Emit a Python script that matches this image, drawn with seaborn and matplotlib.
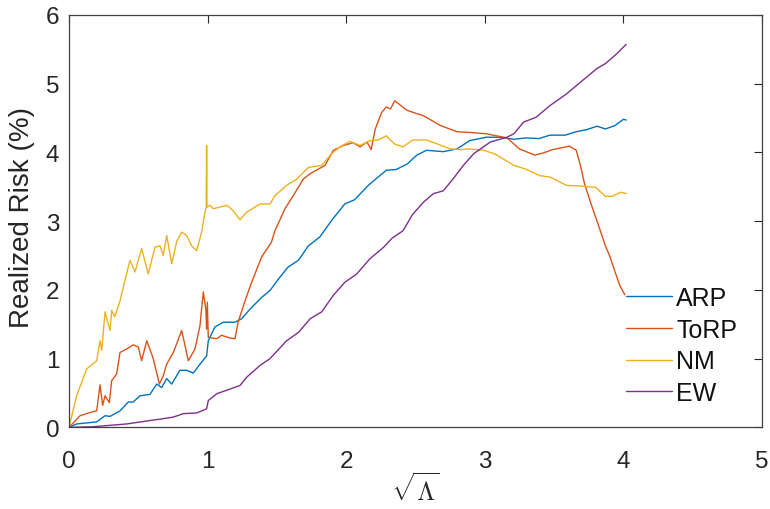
import matplotlib
matplotlib.use("Agg")
import matplotlib.pyplot as plt
import seaborn as sns
import pandas as pd

# ---------------- data ----------------
arp_x = [0, 0.055, 0.2, 0.26, 0.296, 0.368, 0.428, 0.464, 0.512, 0.584, 0.633, 0.669, 0.705, 0.741, 0.80,
         0.849, 0.897, 0.945, 0.993, 1.005, 1.053, 1.113, 1.198, 1.246, 1.306, 1.39, 1.45, 1.52, 1.58, 1.655,
         1.727, 1.81, 1.895, 1.99, 2.06, 2.16, 2.23, 2.29, 2.36, 2.44, 2.51, 2.58, 2.70, 2.80, 2.89, 3.01,
         3.11, 3.21, 3.30, 3.39, 3.47, 3.58, 3.66, 3.735, 3.81, 3.87, 3.94, 4.0, 4.02]
arp_y = [0, 0.05, 0.08, 0.17, 0.16, 0.24, 0.37, 0.37, 0.46, 0.48, 0.63, 0.58, 0.71, 0.63, 0.83,
         0.83, 0.79, 0.92, 1.04, 1.26, 1.46, 1.53, 1.53, 1.58, 1.72, 1.89, 1.99, 2.18, 2.33, 2.43,
         2.64, 2.77, 3.01, 3.25, 3.31, 3.52, 3.64, 3.74, 3.75, 3.83, 3.96, 4.03, 4.01, 4.05, 4.17, 4.22,
         4.22, 4.19, 4.21, 4.20, 4.25, 4.25, 4.30, 4.33, 4.38, 4.34, 4.39, 4.48, 4.47]

torp_x = [0, 0.08, 0.175, 0.2, 0.224, 0.243, 0.26, 0.291, 0.308, 0.344, 0.368, 0.416, 0.464, 0.5, 0.524,
          0.561, 0.608, 0.652, 0.68, 0.705, 0.753, 0.813, 0.861, 0.909, 0.945, 0.969, 0.988, 0.993, 0.998,
          1.005, 1.066, 1.10, 1.16, 1.198, 1.22, 1.27, 1.318, 1.39, 1.46, 1.486, 1.558, 1.618, 1.69, 1.74,
          1.847, 1.907, 1.98, 2.05, 2.10, 2.15, 2.18, 2.21, 2.256, 2.29, 2.32, 2.35, 2.44, 2.56, 2.68,
          2.80, 2.89, 3.01, 3.085, 3.16, 3.25, 3.36, 3.42, 3.49, 3.61, 3.66, 3.69, 3.72, 3.77, 3.82, 3.87,
          3.90, 3.94, 3.975, 4.01]
torp_y = [0, 0.17, 0.23, 0.24, 0.62, 0.32, 0.46, 0.36, 0.68, 0.78, 1.09, 1.14, 1.20, 1.17, 0.97,
          1.26, 1.0, 0.63, 0.75, 0.92, 1.09, 1.41, 0.97, 1.14, 1.48, 1.97, 1.70, 1.43, 1.82,
          1.31, 1.29, 1.34, 1.30, 1.29, 1.53, 1.84, 2.11, 2.48, 2.69, 2.86, 3.18, 3.37, 3.61, 3.69,
          3.81, 4.03, 4.10, 4.14, 4.08, 4.15, 4.04, 4.34, 4.58, 4.66, 4.63, 4.75, 4.61, 4.53, 4.39,
          4.30, 4.29, 4.27, 4.24, 4.21, 4.05, 3.96, 3.99, 4.04, 4.09, 4.03, 3.81, 3.54, 3.23, 2.94, 2.64,
          2.50, 2.26, 2.06, 1.93]

nm_x = [0, 0.055, 0.128, 0.2, 0.224, 0.236, 0.26, 0.296, 0.308, 0.33, 0.368, 0.44, 0.476, 0.524, 0.572,
        0.62, 0.657, 0.68, 0.705, 0.741, 0.777, 0.813, 0.849, 0.885, 0.921, 0.957, 0.981, 0.990, 0.993,
        0.996, 1.017, 1.041, 1.14, 1.185, 1.234, 1.282, 1.378, 1.45, 1.486, 1.57, 1.643, 1.727, 1.823,
        1.895, 1.955, 2.027, 2.1, 2.17, 2.23, 2.29, 2.35, 2.41, 2.48, 2.58, 2.66, 2.75, 2.82, 2.89, 2.99,
        3.07, 3.21, 3.29, 3.40, 3.47, 3.59, 3.69, 3.80, 3.87, 3.92, 3.98, 4.02]
nm_y = [0, 0.46, 0.85, 0.97, 1.26, 1.12, 1.68, 1.41, 1.70, 1.61, 1.84, 2.43, 2.26, 2.6, 2.23,
        2.62, 2.64, 2.5, 2.79, 2.38, 2.7, 2.84, 2.79, 2.64, 2.57, 2.84, 3.13, 3.2, 4.1,
        3.2, 3.23, 3.18, 3.23, 3.15, 3.02, 3.13, 3.25, 3.25, 3.37, 3.52, 3.61, 3.78, 3.81,
        3.98, 4.08, 4.16, 4.10, 4.17, 4.18, 4.24, 4.12, 4.08, 4.18, 4.18, 4.12, 4.05, 4.04, 4.05, 4.03,
        3.98, 3.81, 3.76, 3.66, 3.64, 3.52, 3.51, 3.49, 3.36, 3.36, 3.42, 3.40]

ew_x = [0, 0.175, 0.416, 0.584, 0.657, 0.753, 0.825, 0.921, 0.993, 1.005, 1.066, 1.138, 1.234, 1.282,
        1.378, 1.45, 1.57, 1.655, 1.74, 1.823, 1.907, 1.99, 2.075, 2.17, 2.27, 2.33, 2.41, 2.48, 2.56,
        2.63, 2.70, 2.77, 2.845, 2.92, 2.99, 3.04, 3.16, 3.21, 3.28, 3.37, 3.47, 3.59, 3.69, 3.81, 3.87,
        3.95, 4.02]
ew_y = [0, 0.01, 0.05, 0.10, 0.12, 0.15, 0.20, 0.21, 0.27, 0.39, 0.49, 0.54, 0.61, 0.73,
        0.90, 1.0, 1.26, 1.38, 1.58, 1.68, 1.92, 2.11, 2.23, 2.45, 2.62, 2.75, 2.86, 3.10, 3.28,
        3.40, 3.44, 3.61, 3.81, 3.98, 4.08, 4.15, 4.22, 4.27, 4.44, 4.51, 4.68, 4.85, 5.02, 5.22, 5.29,
        5.43, 5.57]

series_names = ["ARP", "ToRP", "NM", "EW"]
series_colors = ["#0072BD", "#D95319", "#EDB120", "#7E2F8E"]
x_ticks = [0, 1, 2, 3, 4, 5]
y_ticks = [0, 1, 2, 3, 4, 5, 6]

# ---------------- figure ----------------
sns.set_style("white")
plt.rcParams["font.family"] = ["Liberation Sans", "DejaVu Sans"]
plt.rcParams["mathtext.fontset"] = "cm"

fig = plt.figure(figsize=(7.7, 5.1), dpi=100)
ax = fig.add_axes([0.0896, 0.160, 0.900, 0.809])

data = [(arp_x, arp_y), (torp_x, torp_y), (nm_x, nm_y), (ew_x, ew_y)]
for (xs, ys), name, col in zip(data, series_names, series_colors):
    df = pd.DataFrame({"x": xs, "y": ys})
    sns.lineplot(data=df, x="x", y="y", ax=ax, color=col, linewidth=1.0,
                 label=name, estimator=None, sort=False)

ax.set_xlim(0, 5)
ax.set_ylim(0, 6)
ax.set_xticks(x_ticks)
ax.set_yticks(y_ticks)
ax.tick_params(direction="in", top=True, right=True, length=6, width=0.8,
               labelsize=17.5, colors="#262626")
ax.tick_params(axis="x", pad=16)
ax.tick_params(axis="y", pad=7)
for sp in ax.spines.values():
    sp.set_visible(True)
    sp.set_color("#404040")
    sp.set_linewidth(0.9)

ax.set_xlabel(r"$\sqrt{\Lambda}$", fontsize=19, color="#262626")
ax.xaxis.set_label_coords(0.5, -0.108)
ax.set_ylabel("Realized Risk (%)", fontsize=20, color="#262626")
ax.yaxis.set_label_coords(-0.049, 0.511)

leg = ax.legend(loc="upper left", bbox_to_anchor=(0.804, 0.343), frameon=False,
                fontsize=18, handlelength=1.84, handletextpad=0.16, labelspacing=0.31,
                borderpad=0, borderaxespad=0)
for t in leg.get_texts():
    t.set_color("#111111")

fig.savefig("out.png", dpi=100)
